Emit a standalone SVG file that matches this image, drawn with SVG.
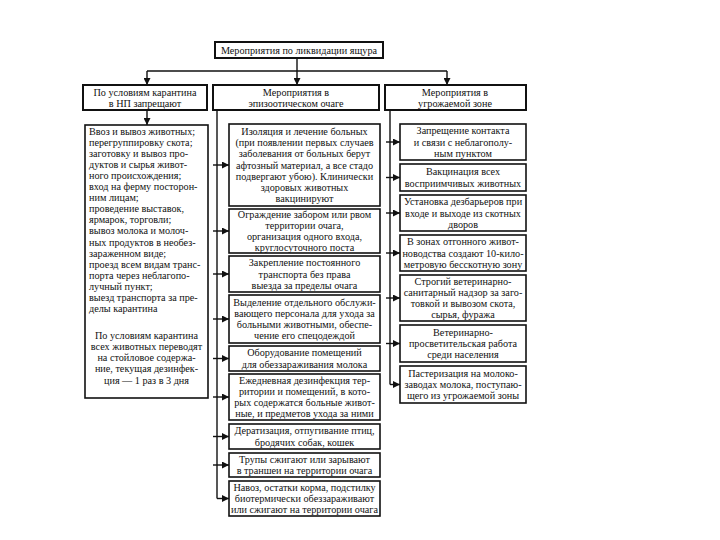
<svg xmlns="http://www.w3.org/2000/svg" width="720" height="540" viewBox="0 0 720 540" font-family="'Liberation Serif', 'Times New Roman', serif">
<style>
text{font-family:'Liberation Serif','Times New Roman',serif;font-size:10.2px;fill:#111}
.c{text-anchor:middle}
.box{fill:#fff;stroke:#111;stroke-width:1.6}
.hd{fill:#fff;stroke:#111;stroke-width:2}
.ln{fill:none;stroke:#111;stroke-width:1.4}
</style>
<defs>
<marker id="ar" viewBox="0 0 8 8" refX="8" refY="4" markerWidth="5" markerHeight="5" orient="auto">
<path d="M0,0 L8,4 L0,8 z" fill="#111"/>
</marker>
</defs>
<rect width="720" height="540" fill="#fff"/>

<g id="connectors" class="ln">
<path d="M297,58 V85" marker-end="url(#ar)"/>
<path d="M147,71 H447"/>
<path d="M147,71 V85" marker-end="url(#ar)"/>
<path d="M447,71 V85" marker-end="url(#ar)"/>
<path d="M147,110 V125" marker-end="url(#ar)"/>
<path d="M217,110 V498.5"/>
<path d="M213,165 H229" marker-end="url(#ar)"/>
<path d="M213,231 H229" marker-end="url(#ar)"/>
<path d="M213,274 H229" marker-end="url(#ar)"/>
<path d="M213,319 H229" marker-end="url(#ar)"/>
<path d="M213,358.5 H229" marker-end="url(#ar)"/>
<path d="M213,397 H229" marker-end="url(#ar)"/>
<path d="M213,436.5 H229" marker-end="url(#ar)"/>
<path d="M213,465 H229" marker-end="url(#ar)"/>
<path d="M217,498.5 H229" marker-end="url(#ar)"/>
<path d="M390,110 V384.5"/>
<path d="M386,142 H400" marker-end="url(#ar)"/>
<path d="M386,177.5 H400" marker-end="url(#ar)"/>
<path d="M386,213 H400" marker-end="url(#ar)"/>
<path d="M386,253 H400" marker-end="url(#ar)"/>
<path d="M386,298 H400" marker-end="url(#ar)"/>
<path d="M386,343.5 H400" marker-end="url(#ar)"/>
<path d="M390,384.5 H400" marker-end="url(#ar)"/>
</g>

<g id="title">
<rect class="hd" x="215" y="42" width="168" height="16"/>
<text class="c" x="299" y="53.5">Мероприятия по ликвидации ящура</text>
</g>

<g id="hdr-left">
<rect class="hd" x="83" y="85" width="124" height="25"/>
<text class="c" x="145" y="96">По условиям карантина</text>
<text class="c" x="145" y="107">в НП запрещают</text>
</g>
<g id="hdr-mid">
<rect class="hd" x="213" y="85" width="166" height="25"/>
<text class="c" x="296" y="96">Мероприятия в</text>
<text class="c" x="296" y="107">эпизоотическом очаге</text>
</g>
<g id="hdr-right">
<rect class="hd" x="385" y="85" width="141" height="25"/>
<text class="c" x="455" y="96">Мероприятия в</text>
<text class="c" x="455" y="107">угрожаемой зоне</text>
</g>

<g id="left-box">
<rect class="box" x="85" y="125" width="123" height="273"/>
<text x="89" y="134.5">Ввоз и вывоз животных;</text>
<text x="89" y="145.6">перегруппировку скота;</text>
<text x="89" y="156.7">заготовку и вывоз про-</text>
<text x="89" y="167.8">дуктов и сырья живот-</text>
<text x="89" y="178.9">ного происхождения;</text>
<text x="89" y="190">вход на ферму посторон-</text>
<text x="89" y="201.1">ним лицам;</text>
<text x="89" y="212.2">проведение выставок,</text>
<text x="89" y="223.3">ярмарок, торговли;</text>
<text x="89" y="234.4">вывоз молока и молоч-</text>
<text x="89" y="245.5">ных продуктов в необез-</text>
<text x="89" y="256.6">зараженном виде;</text>
<text x="89" y="267.7">проезд всем видам транс-</text>
<text x="89" y="278.8">порта через неблагопо-</text>
<text x="89" y="289.9">лучный пункт;</text>
<text x="89" y="301">выезд транспорта за пре-</text>
<text x="89" y="312.1">делы карантина</text>
<text class="c" x="146.5" y="338.5">По условиям карантина</text>
<text class="c" x="146.5" y="349.8">всех животных переводят</text>
<text class="c" x="146.5" y="361.1">на стойловое содержа-</text>
<text class="c" x="146.5" y="372.4">ние, текущая дезинфек-</text>
<text class="c" x="146.5" y="383.7">ция — 1 раз в 3 дня</text>
</g>

<g id="m1">
<rect class="box" x="229" y="124" width="151" height="82"/>
<text class="c" x="304.5" y="134.6">Изоляция и лечение больных</text>
<text class="c" x="304.5" y="145.9">(при появлении первых случаев</text>
<text class="c" x="304.5" y="157.2">заболевания от больных берут</text>
<text class="c" x="304.5" y="168.5">афтозный материал, а все стадо</text>
<text class="c" x="304.5" y="179.8">подвергают убою). Клинически</text>
<text class="c" x="304.5" y="191.1">здоровых животных</text>
<text class="c" x="304.5" y="202.4">вакцинируют</text>
</g>
<g id="m2">
<rect class="box" x="229" y="209" width="151" height="44"/>
<text class="c" x="304.5" y="218.3">Ограждение забором или рвом</text>
<text class="c" x="304.5" y="229.1">территории очага,</text>
<text class="c" x="304.5" y="239.9">организация одного входа,</text>
<text class="c" x="304.5" y="250.7">круглосуточного поста</text>
</g>
<g id="m3">
<rect class="box" x="229" y="256" width="151" height="36"/>
<text class="c" x="304.5" y="266.2">Закрепление постоянного</text>
<text class="c" x="304.5" y="277.5">транспорта без права</text>
<text class="c" x="304.5" y="288.8">выезда за пределы очага</text>
</g>
<g id="m4">
<rect class="box" x="229" y="295" width="151" height="48"/>
<text class="c" x="304.5" y="305.5">Выделение отдельного обслужи-</text>
<text class="c" x="304.5" y="316.8">вающего персонала для ухода за</text>
<text class="c" x="304.5" y="328.1">больными животными, обеспе-</text>
<text class="c" x="304.5" y="339.4">чение его спецодеждой</text>
</g>
<g id="m5">
<rect class="box" x="229" y="346" width="151" height="25"/>
<text class="c" x="304.5" y="356.4">Оборудование помещений</text>
<text class="c" x="304.5" y="367.7">для обеззараживания молока</text>
</g>
<g id="m6">
<rect class="box" x="229" y="374" width="151" height="46"/>
<text class="c" x="304.5" y="383.5">Ежедневная дезинфекция тер-</text>
<text class="c" x="304.5" y="394.8">ритории и помещений, в кото-</text>
<text class="c" x="304.5" y="406.1">рых содержатся больные живот-</text>
<text class="c" x="304.5" y="417.4">ные, и предметов ухода за ними</text>
</g>
<g id="m7">
<rect class="box" x="229" y="424" width="151" height="25"/>
<text class="c" x="304.5" y="434.4">Дератизация, отпугивание птиц,</text>
<text class="c" x="304.5" y="445.7">бродячих собак, кошек</text>
</g>
<g id="m8">
<rect class="box" x="229" y="453" width="151" height="24"/>
<text class="c" x="304.5" y="462.9">Трупы сжигают или зарывают</text>
<text class="c" x="304.5" y="474.2">в траншеи на территории очага</text>
</g>
<g id="m9">
<rect class="box" x="229" y="481" width="151" height="35"/>
<text class="c" x="304.5" y="490.7">Навоз, остатки корма, подстилку</text>
<text class="c" x="304.5" y="502">биотермически обеззараживают</text>
<text class="c" x="304.5" y="513.3">или сжигают на территории очага</text>
</g>

<g id="r1">
<rect class="box" x="400" y="124" width="126" height="36"/>
<text class="c" x="463" y="134.2">Запрещение контакта</text>
<text class="c" x="463" y="145.5">и связи с неблагополу-</text>
<text class="c" x="463" y="156.8">ным пунктом</text>
</g>
<g id="r2">
<rect class="box" x="400" y="164" width="126" height="27"/>
<text class="c" x="463" y="175.4">Вакцинация всех</text>
<text class="c" x="463" y="186.7">восприимчивых животных</text>
</g>
<g id="r3">
<rect class="box" x="400" y="195" width="126" height="36"/>
<text class="c" x="463" y="205.2">Установка дезбарьеров при</text>
<text class="c" x="463" y="216.5">входе и выходе из скотных</text>
<text class="c" x="463" y="227.8">дворов</text>
</g>
<g id="r4">
<rect class="box" x="400" y="235" width="126" height="36"/>
<text class="c" x="463" y="245.2">В зонах отгонного живот-</text>
<text class="c" x="463" y="256.5">новодства создают 10-кило-</text>
<text class="c" x="463" y="267.8">метровую бесскотную зону</text>
</g>
<g id="r5">
<rect class="box" x="400" y="275" width="126" height="46"/>
<text class="c" x="463" y="284.5">Строгий ветеринарно-</text>
<text class="c" x="463" y="295.8">санитарный надзор за заго-</text>
<text class="c" x="463" y="307.1">товкой и вывозом скота,</text>
<text class="c" x="463" y="318.4">сырья, фуража</text>
</g>
<g id="r6">
<rect class="box" x="400" y="325" width="126" height="37"/>
<text class="c" x="463" y="335.7">Ветеринарно-</text>
<text class="c" x="463" y="347">просветительская работа</text>
<text class="c" x="463" y="358.3">среди населения</text>
</g>
<g id="r7">
<rect class="box" x="400" y="366" width="126" height="37"/>
<text class="c" x="463" y="376.7">Пастеризация на молоко-</text>
<text class="c" x="463" y="388">заводах молока, поступаю-</text>
<text class="c" x="463" y="399.3">щего из угрожаемой зоны</text>
</g>
</svg>
